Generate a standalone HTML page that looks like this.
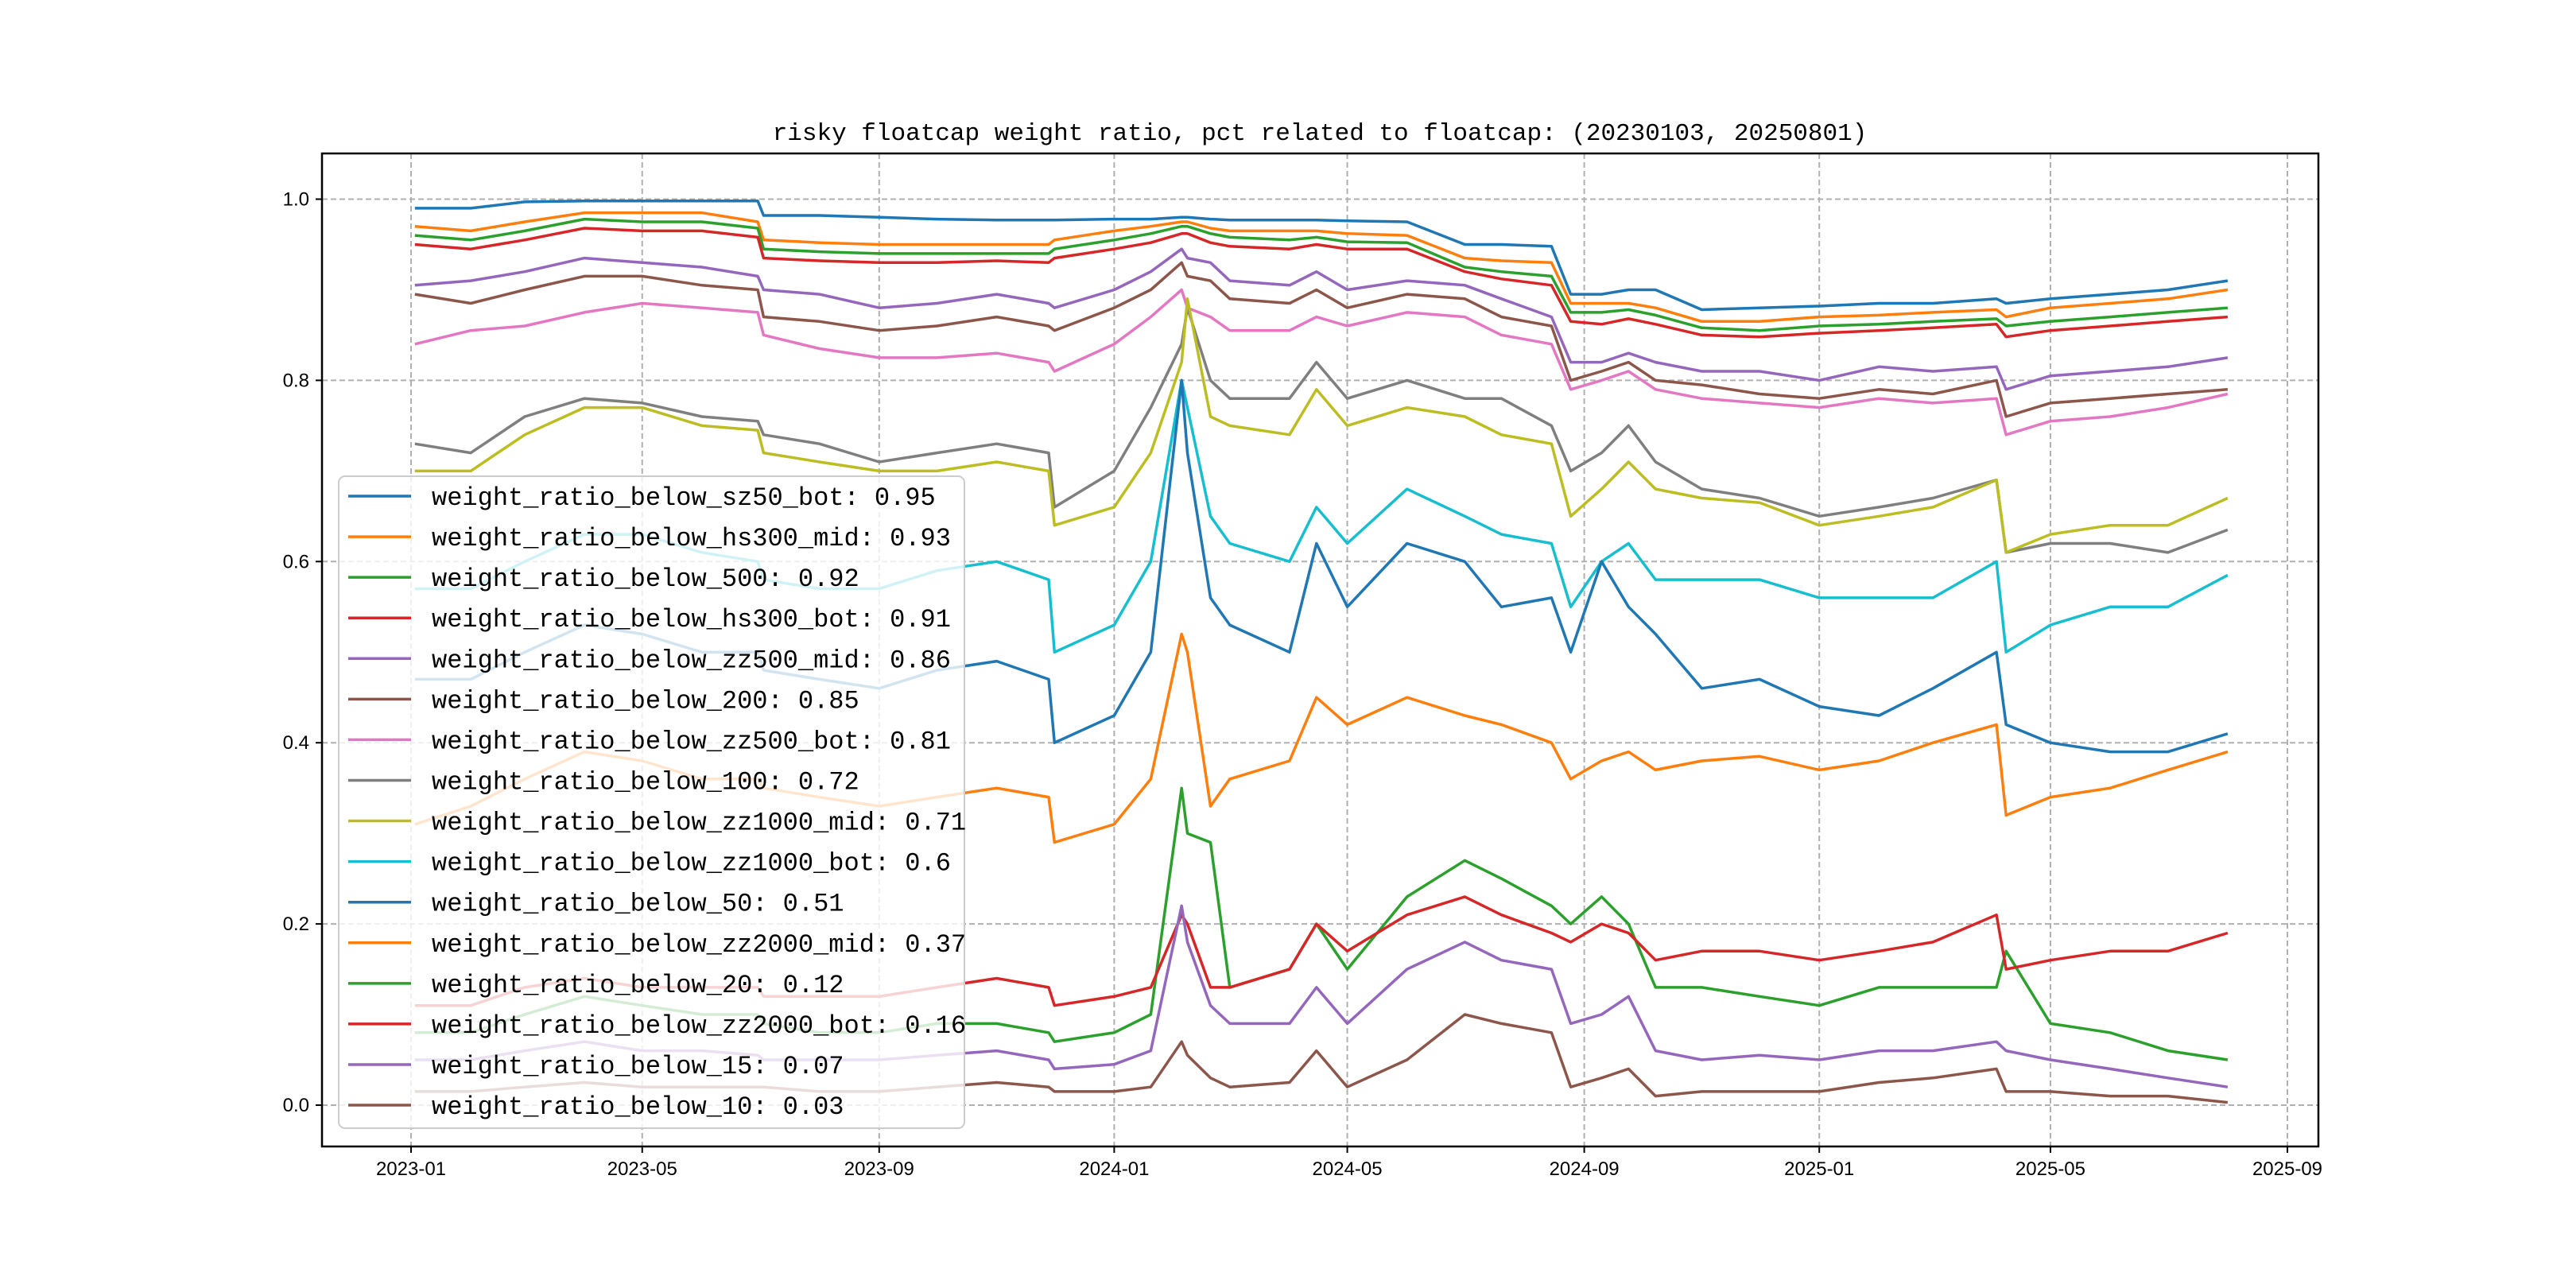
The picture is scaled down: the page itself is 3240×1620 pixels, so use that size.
<!DOCTYPE html>
<html><head><meta charset="utf-8"><style>
html,body{margin:0;padding:0;background:#fff;}
svg{display:block;}
text{font-family:"Liberation Mono","DejaVu Sans Mono",monospace;fill:#000;}
text.tick{font-family:"Liberation Sans","DejaVu Sans",sans-serif;}
</style></head><body>
<svg id="chart" width="3240" height="1620" viewBox="0 0 3240 1620" xmlns="http://www.w3.org/2000/svg">
<rect width="3240" height="1620" fill="#fff"/>
<text x="1660" y="176" font-size="31" text-anchor="middle">risky floatcap weight ratio, pct related to floatcap: (20230103, 20250801)</text>
<g id="grid"></g><g id="series"></g><g id="axes"></g><g id="legend"></g>
</svg>
<script>
const dates=["2023-01-03","2023-02-01","2023-03-01","2023-04-01","2023-05-01","2023-06-01","2023-06-30",
"2023-07-03","2023-08-01","2023-09-01","2023-10-01","2023-11-01","2023-11-28","2023-12-01",
"2024-01-01","2024-01-20","2024-02-05","2024-02-08","2024-02-20","2024-03-01","2024-04-01",
"2024-04-15","2024-05-01","2024-06-01","2024-07-01","2024-07-20","2024-08-15","2024-08-25",
"2024-09-10","2024-09-24","2024-10-08","2024-11-01","2024-12-01","2025-01-01","2025-02-01",
"2025-03-01","2025-04-03","2025-04-08","2025-05-01","2025-06-01","2025-07-01","2025-08-01"];
const seriesNames=["weight_ratio_below_sz50_bot","weight_ratio_below_hs300_mid","weight_ratio_below_500","weight_ratio_below_hs300_bot","weight_ratio_below_zz500_mid","weight_ratio_below_200","weight_ratio_below_zz500_bot","weight_ratio_below_100","weight_ratio_below_zz1000_mid","weight_ratio_below_zz1000_bot","weight_ratio_below_50","weight_ratio_below_zz2000_mid","weight_ratio_below_20","weight_ratio_below_zz2000_bot","weight_ratio_below_15","weight_ratio_below_10"];
const legendValues=["0.95","0.93","0.92","0.91","0.86","0.85","0.81","0.72","0.71","0.6","0.51","0.37","0.12","0.16","0.07","0.03"];
const colors=["#1f77b4","#ff7f0e","#2ca02c","#d62728","#9467bd","#8c564b","#e377c2","#7f7f7f","#bcbd22","#17becf","#1f77b4","#ff7f0e","#2ca02c","#d62728","#9467bd","#8c564b"];
const sSz50Bot=[0.99,0.99,0.997,0.998,0.998,0.998,0.998, 0.982,0.982,0.98,0.978,0.977,0.977,0.977, 0.978,0.978,0.98,0.98,0.978,0.977,0.977, 0.977,0.976,0.975,0.95,0.95,0.948,0.895, 0.895,0.9,0.9,0.878,0.88,0.882,0.885, 0.885,0.89,0.885,0.89,0.895,0.9,0.91];
const sHs300Mid=[0.97,0.965,0.975,0.985,0.985,0.985,0.975, 0.955,0.952,0.95,0.95,0.95,0.95,0.955, 0.965,0.97,0.975,0.975,0.968,0.965,0.965, 0.965,0.962,0.96,0.935,0.932,0.93,0.885, 0.885,0.885,0.88,0.865,0.865,0.87,0.872, 0.875,0.878,0.87,0.88,0.885,0.89,0.9];
const s500=[0.96,0.955,0.965,0.978,0.975,0.975,0.968, 0.945,0.942,0.94,0.94,0.94,0.94,0.945, 0.955,0.962,0.97,0.97,0.962,0.958,0.955, 0.958,0.953,0.952,0.925,0.92,0.915,0.875, 0.875,0.878,0.872,0.858,0.855,0.86,0.862, 0.865,0.868,0.86,0.865,0.87,0.875,0.88];
const sHs300Bot=[0.95,0.945,0.955,0.968,0.965,0.965,0.958, 0.935,0.932,0.93,0.93,0.932,0.93,0.935, 0.945,0.952,0.962,0.962,0.952,0.948,0.945, 0.95,0.945,0.945,0.92,0.912,0.905,0.865, 0.862,0.868,0.862,0.85,0.848,0.852,0.855, 0.858,0.862,0.848,0.855,0.86,0.865,0.87];
const sZz500Mid=[0.905,0.91,0.92,0.935,0.93,0.925,0.915, 0.9,0.895,0.88,0.885,0.895,0.885,0.88, 0.9,0.92,0.945,0.935,0.93,0.91,0.905, 0.92,0.9,0.91,0.905,0.89,0.87,0.82, 0.82,0.83,0.82,0.81,0.81,0.8,0.815, 0.81,0.815,0.79,0.805,0.81,0.815,0.825];
const s200=[0.895,0.885,0.9,0.915,0.915,0.905,0.9, 0.87,0.865,0.855,0.86,0.87,0.86,0.855, 0.88,0.9,0.93,0.915,0.91,0.89,0.885, 0.9,0.88,0.895,0.89,0.87,0.86,0.8, 0.81,0.82,0.8,0.795,0.785,0.78,0.79, 0.785,0.8,0.76,0.775,0.78,0.785,0.79];
const sZz500Bot=[0.84,0.855,0.86,0.875,0.885,0.88,0.875, 0.85,0.835,0.825,0.825,0.83,0.82,0.81, 0.84,0.87,0.9,0.88,0.87,0.855,0.855, 0.87,0.86,0.875,0.87,0.85,0.84,0.79, 0.8,0.81,0.79,0.78,0.775,0.77,0.78, 0.775,0.78,0.74,0.755,0.76,0.77,0.785];
const s100=[0.73,0.72,0.76,0.78,0.775,0.76,0.755, 0.74,0.73,0.71,0.72,0.73,0.72,0.66, 0.7,0.77,0.84,0.88,0.8,0.78,0.78, 0.82,0.78,0.8,0.78,0.78,0.75,0.7, 0.72,0.75,0.71,0.68,0.67,0.65,0.66, 0.67,0.69,0.61,0.62,0.62,0.61,0.635];
const sZz1000Mid=[0.7,0.7,0.74,0.77,0.77,0.75,0.745, 0.72,0.71,0.7,0.7,0.71,0.7,0.64, 0.66,0.72,0.82,0.89,0.76,0.75,0.74, 0.79,0.75,0.77,0.76,0.74,0.73,0.65, 0.68,0.71,0.68,0.67,0.665,0.64,0.65, 0.66,0.69,0.61,0.63,0.64,0.64,0.67];
const sZz1000Bot=[0.57,0.57,0.6,0.63,0.63,0.61,0.6, 0.58,0.57,0.57,0.59,0.6,0.58,0.5, 0.53,0.6,0.8,0.77,0.65,0.62,0.6, 0.66,0.62,0.68,0.65,0.63,0.62,0.55, 0.6,0.62,0.58,0.58,0.58,0.56,0.56, 0.56,0.6,0.5,0.53,0.55,0.55,0.585];
const s50=[0.47,0.47,0.5,0.53,0.52,0.5,0.5, 0.48,0.47,0.46,0.48,0.49,0.47,0.4, 0.43,0.5,0.8,0.72,0.56,0.53,0.5, 0.62,0.55,0.62,0.6,0.55,0.56,0.5, 0.6,0.55,0.52,0.46,0.47,0.44,0.43, 0.46,0.5,0.42,0.4,0.39,0.39,0.41];
const sZz2000Mid=[0.31,0.33,0.36,0.39,0.38,0.36,0.36, 0.35,0.34,0.33,0.34,0.35,0.34,0.29, 0.31,0.36,0.52,0.5,0.33,0.36,0.38, 0.45,0.42,0.45,0.43,0.42,0.4,0.36, 0.38,0.39,0.37,0.38,0.385,0.37,0.38, 0.4,0.42,0.32,0.34,0.35,0.37,0.39];
const s20=[0.08,0.08,0.1,0.12,0.11,0.1,0.1, 0.09,0.08,0.08,0.09,0.09,0.08,0.07, 0.08,0.1,0.35,0.3,0.29,0.13,0.15, 0.2,0.15,0.23,0.27,0.25,0.22,0.2, 0.23,0.2,0.13,0.13,0.12,0.11,0.13, 0.13,0.13,0.17,0.09,0.08,0.06,0.05];
const sZz2000Bot=[0.11,0.11,0.13,0.14,0.13,0.13,0.13, 0.12,0.12,0.12,0.13,0.14,0.13,0.11, 0.12,0.13,0.21,0.2,0.13,0.13,0.15, 0.2,0.17,0.21,0.23,0.21,0.19,0.18, 0.2,0.19,0.16,0.17,0.17,0.16,0.17, 0.18,0.21,0.15,0.16,0.17,0.17,0.19];
const s15=[0.05,0.05,0.06,0.07,0.06,0.06,0.055, 0.05,0.05,0.05,0.055,0.06,0.05,0.04, 0.045,0.06,0.22,0.18,0.11,0.09,0.09, 0.13,0.09,0.15,0.18,0.16,0.15,0.09, 0.1,0.12,0.06,0.05,0.055,0.05,0.06, 0.06,0.07,0.06,0.05,0.04,0.03,0.02];
const s10=[0.015,0.015,0.02,0.025,0.02,0.02,0.02, 0.02,0.015,0.015,0.02,0.025,0.02,0.015, 0.015,0.02,0.07,0.055,0.03,0.02,0.025, 0.06,0.02,0.05,0.1,0.09,0.08,0.02, 0.03,0.04,0.01,0.015,0.015,0.015,0.025, 0.03,0.04,0.015,0.015,0.01,0.01,0.003];
const seriesValues=[sSz50Bot,sHs300Mid,s500,sHs300Bot,sZz500Mid,s200,sZz500Bot,s100,sZz1000Mid,sZz1000Bot,s50,sZz2000Mid,s20,sZz2000Bot,s15,s10];
const xTickLabels=["2023-01","2023-05","2023-09","2024-01","2024-05","2024-09","2025-01","2025-05","2025-09"];
const yTickValues=[0,0.2,0.4,0.6,0.8,1.0];

const NS="http://www.w3.org/2000/svg";
const PL=405,PR=2916,PT=193,PB=1442;
const T0=Date.UTC(2023,0,1);
function xScale(d){const p=d.split("-").map(Number);const t=Date.UTC(p[0],p[1]-1,p[2]||1);return 517+(t-T0)/86400000*2.423;}
function yScale(v){return 1390-1139.5*v;}
function mk(tag,attrs,parent){const e=document.createElementNS(NS,tag);for(const k in attrs)e.setAttribute(k,attrs[k]);parent.appendChild(e);return e;}
const grid=document.getElementById("grid"),ser=document.getElementById("series"),axes=document.getElementById("axes"),leg=document.getElementById("legend");

xTickLabels.forEach(lbl=>{
  const x=xScale(lbl+"-01");
  const g=mk("line",{x1:x,x2:x,y1:PT,y2:PB,stroke:"#b0b0b0","stroke-width":2,"stroke-dasharray":"7,4"},grid);
  
  
  const t=mk("line",{x1:x,x2:x,y1:PB,y2:PB+8,stroke:"#000","stroke-width":2},axes);
  
  
  const tx=mk("text",{x:x,y:PB+36,"font-size":24,"text-anchor":"middle","class":"tick"},axes);
  tx.textContent=lbl;
  
  
});
yTickValues.forEach(v=>{
  const y=yScale(v);
  const g=mk("line",{x1:PL,x2:PR,y1:y,y2:y,stroke:"#b0b0b0","stroke-width":2,"stroke-dasharray":"7,4"},grid);
  
  
  const t=mk("line",{x1:PL-8,x2:PL,y1:y,y2:y,stroke:"#000","stroke-width":2},axes);
  
  
  const tx=mk("text",{x:PL-16,y:y+8,"font-size":24,"text-anchor":"end","class":"tick"},axes);
  tx.textContent=v.toFixed(1);
  
  
});
seriesValues.forEach((vals,i)=>{
  const pts=vals.map((v,j)=>xScale(dates[j]).toFixed(1)+","+yScale(v).toFixed(1)).join(" ");
  const pl=mk("polyline",{points:pts,fill:"none",stroke:colors[i],"stroke-width":3.5,"stroke-linejoin":"round"},ser);
  
  
});
const frame=mk("rect",{x:PL,y:PT,width:PR-PL,height:PB-PT,fill:"none",stroke:"#000","stroke-width":2.5},axes);



const box=mk("rect",{x:426,y:599,width:787,height:820,rx:8,fill:"#fff","fill-opacity":0.8,stroke:"#cccccc","stroke-width":2},leg);


seriesNames.forEach((n,i)=>{
  const y=624+51.07*i;
  const ln=mk("line",{x1:438,x2:517,y1:y,y2:y,stroke:colors[i],"stroke-width":3.5},leg);
  
  
  const t=mk("text",{x:543,y:y+11,"font-size":32},leg);
  t.textContent=n+": "+legendValues[i];
  
  
});
</script>
</body></html>
